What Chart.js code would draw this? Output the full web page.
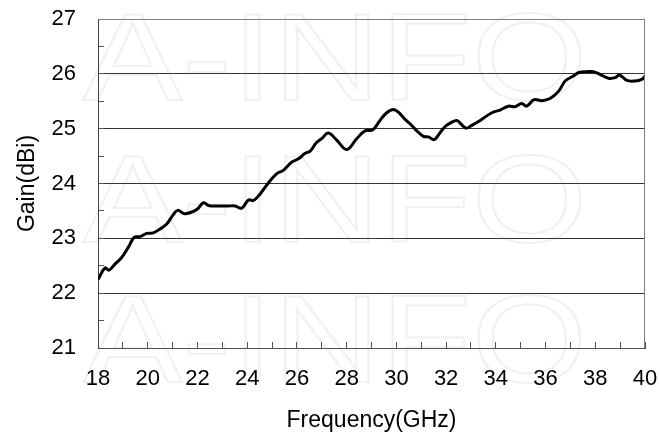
<!DOCTYPE html>
<html>
<head>
<meta charset="utf-8">
<script src="https://cdn.jsdelivr.net/npm/chart.js@4"></script>
<style>
  html, body { margin: 0; padding: 0; background: #fff; }
  #wrap { width: 660px; height: 436px; }
</style>
</head>
<body>
<div id="wrap"><canvas id="gainChart"></canvas></div>
<script>
// values
const freqGHz = [18.0, 18.28, 18.44, 18.68, 18.95, 19.22, 19.46, 19.69, 19.96, 20.22,
  20.49, 20.76, 20.99, 21.2, 21.47, 21.77, 22.01, 22.24, 22.44, 22.84,
  23.24, 23.51, 23.78, 24.05, 24.25, 24.52, 24.85, 25.19, 25.45, 25.79,
  26.06, 26.33, 26.53, 26.77, 27.0, 27.26, 27.6, 28.0, 28.41, 28.74,
  29.05, 29.34, 29.61, 29.88, 30.08, 30.35, 30.55, 30.82, 31.09, 31.29,
  31.52, 31.73, 31.96, 32.16, 32.43, 32.59, 32.8, 33.03, 33.37, 33.84,
  34.17, 34.51, 34.77, 35.04, 35.24, 35.54, 35.85, 36.18, 36.52, 36.79,
  37.12, 37.32, 37.66, 37.92, 38.19, 38.53, 38.8, 38.97, 39.27, 39.6,
  39.87, 40.0];
const gainDbi = [22.25, 22.46, 22.42, 22.53, 22.65, 22.84, 23.02, 23.03, 23.09, 23.10,
  23.17, 23.26, 23.41, 23.51, 23.45, 23.48, 23.54, 23.65, 23.60, 23.59,
  23.59, 23.59, 23.55, 23.70, 23.69, 23.81, 24.01, 24.18, 24.24, 24.39,
  24.45, 24.55, 24.59, 24.74, 24.82, 24.92, 24.79, 24.62, 24.82, 24.96,
  24.98, 25.15, 25.29, 25.35, 25.30, 25.17, 25.09, 24.96, 24.86, 24.85,
  24.80, 24.91, 25.04, 25.10, 25.15, 25.09, 25.01, 25.06, 25.15, 25.29,
  25.34, 25.41, 25.40, 25.46, 25.41, 25.53, 25.51, 25.55, 25.68, 25.87,
  25.96, 26.02, 26.04, 26.04, 25.99, 25.92, 25.93, 25.98, 25.88, 25.87,
  25.90, 25.96];
const xRange = [18, 40];
const yRange = [21, 27];
const watermark = 'A-INFO';

const font = 'Liberation Sans, Arial, sans-serif';

// faint vendor watermark behind everything
const watermarkPlugin = {
  id: 'watermark',
  beforeDraw(chart) {
    const c = chart.ctx;
    c.save();
    c.font = '400 124px ' + font;
    c.strokeStyle = '#f1f1f1';
    c.lineWidth = 2;
    c.textAlign = 'center';
    c.textBaseline = 'middle';
    [66, 208, 348].forEach(y => {
      c.save();
      c.translate(335, y);
      c.scale(1.2, 1);
      c.strokeText(watermark, 0, 0);
      c.restore();
    });
    c.restore();
  }
};

// top and right sides of the frame
const framePlugin = {
  id: 'frame',
  afterDraw(chart) {
    const a = chart.chartArea, c = chart.ctx;
    c.save();
    c.strokeStyle = '#808080';
    c.lineWidth = 1;
    c.beginPath();
    c.moveTo(Math.round(a.left) + 0.5, Math.round(a.top) + 0.5);
    c.lineTo(Math.round(a.right) - 0.5, Math.round(a.top) + 0.5);
    c.lineTo(Math.round(a.right) - 0.5, Math.round(a.bottom));
    c.stroke();
    c.restore();
  }
};

// let the layout padding alone decide the plot edges
const noEdgePadding = scale => {
  scale.paddingTop = 0;
  scale.paddingBottom = 0;
  scale.paddingLeft = 0;
  scale.paddingRight = 0;
};

new Chart(document.getElementById('gainChart'), {
  type: 'line',
  data: {
    datasets: [{
      data: freqGHz.map((f, i) => ({ x: f, y: gainDbi[i] })),
      borderColor: '#000',
      borderWidth: 3,
      pointRadius: 0,
      tension: 0.4,
      fill: false
    }]
  },
  options: {
    responsive: true,
    maintainAspectRatio: false,
    animation: false,
    layout: { padding: { top: 19, right: 15, bottom: 2, left: 14 } },
    plugins: { legend: { display: false }, tooltip: { enabled: false } },
    scales: {
      x: {
        type: 'linear',
        min: xRange[0], max: xRange[1],
        afterFit: noEdgePadding,
        border: { color: '#555', width: 1 },
        grid: { drawOnChartArea: false, drawTicks: true, tickLength: -6, tickColor: '#555' },
        ticks: {
          stepSize: 1, autoSkip: false, maxRotation: 0, padding: 24,
          color: '#000', font: { family: font, size: 22 },
          callback: v => (v % 2 === 0 ? String(v) : '')
        },
        title: { display: true, text: 'Frequency(GHz)', color: '#000',
          font: { family: font, size: 23 }, padding: { top: -10, bottom: 0 } }
      },
      y: {
        min: yRange[0], max: yRange[1],
        afterFit: noEdgePadding,
        border: { color: '#444', width: 1 },
        grid: {
          drawTicks: true, tickLength: -6, tickColor: '#555', lineWidth: 1,
          color: ctx => (ctx.tick && ctx.tick.value % 1 === 0 ? '#333' : 'rgba(0,0,0,0)')
        },
        ticks: {
          stepSize: 0.5, autoSkip: false, padding: 28,
          color: '#000', font: { family: font, size: 22 },
          callback: v => (v % 1 === 0 ? String(v) : '')
        },
        title: { display: true, text: 'Gain(dBi)', color: '#000',
          font: { family: font, size: 23 }, padding: { top: 0, bottom: -18 } }
      }
    }
  },
  plugins: [watermarkPlugin, framePlugin]
});
</script>
</body>
</html>
